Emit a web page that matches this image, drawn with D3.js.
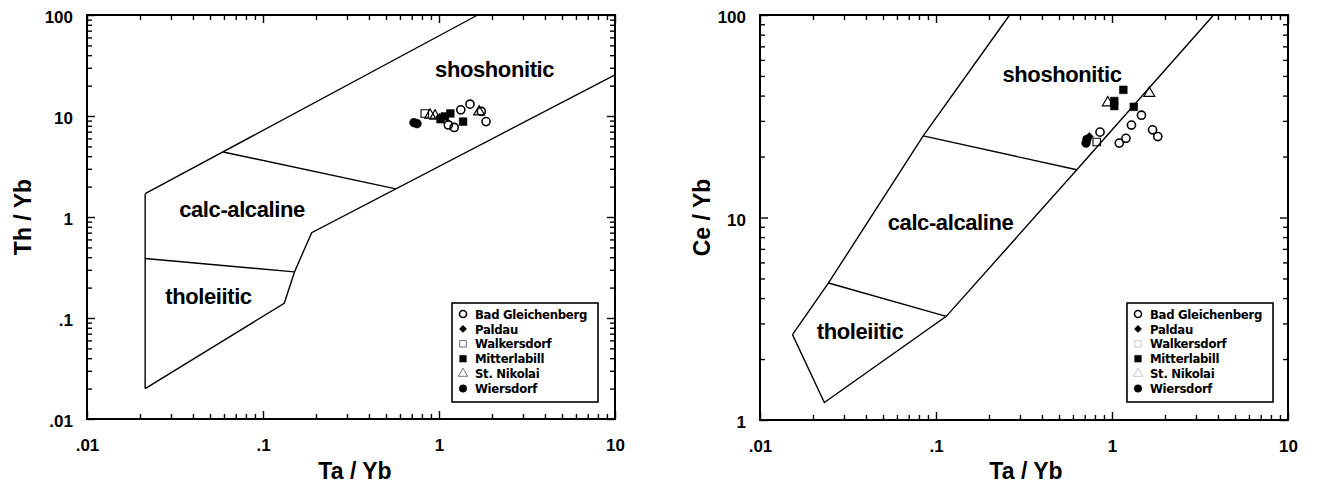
<!DOCTYPE html>
<html lang="en">
<head>
<meta charset="utf-8">
<title>Th/Yb and Ce/Yb vs Ta/Yb</title>
<script src="https://cdn.jsdelivr.net/npm/d3@7"></script>
<style>
  body { margin: 0; background: #fff; }
  .frame { fill: none; stroke: #000; stroke-width: 2; }
  .field { fill: none; stroke: #000; stroke-width: 1.4; stroke-linejoin: miter; }
  .tick line { stroke: #000; stroke-width: 1.4; }
  .region { font-family: "Liberation Sans", Arial, sans-serif; font-weight: bold; font-size: 22px; letter-spacing: -0.4px; }
  .title { font-family: "Liberation Sans", Arial, sans-serif; font-weight: bold; font-size: 23px; }
  .legend text { font-family: "Liberation Sans Narrow", "DejaVu Sans Condensed", sans-serif; font-weight: bold; font-size: 13px; letter-spacing: -0.3px; }
</style>
</head>
<body>
<script>
// sample sites (legend order)
var sites = ["Bad Gleichenberg", "Paldau", "Walkersdorf", "Mitterlabill", "St. Nikolai", "Wiersdorf"];

// tick labels
var taTickLabels = [".01", ".1", "1", "10"];
var thTickLabels = [".01", ".1", "1", "10", "100"];
var ceTickLabels = ["1", "10", "100"];

// [site, Ta/Yb, Th/Yb]
var thYbSamples = [
  ["Bad Gleichenberg", 1.33, 11.5],
  ["Bad Gleichenberg", 1.50, 13.1],
  ["Bad Gleichenberg", 1.22, 7.7],
  ["Bad Gleichenberg", 1.13, 8.15],
  ["Bad Gleichenberg", 1.85, 8.8],
  ["Bad Gleichenberg", 1.74, 11.1],
  ["Wiersdorf", 0.72, 8.6],
  ["Wiersdorf", 0.75, 8.4],
  ["Walkersdorf", 0.83, 10.6],
  ["St. Nikolai", 0.89, 10.2],
  ["St. Nikolai", 0.95, 10.0],
  ["St. Nikolai", 1.69, 11.0],
  ["Paldau", 1.01, 9.7],
  ["Mitterlabill", 1.16, 10.6],
  ["Mitterlabill", 1.08, 9.9],
  ["Mitterlabill", 1.02, 9.3],
  ["Mitterlabill", 1.37, 8.8]
];

// [site, Ta/Yb, Ce/Yb]
var ceYbSamples = [
  ["Bad Gleichenberg", 0.855, 26.4],
  ["Bad Gleichenberg", 1.47, 32.0],
  ["Bad Gleichenberg", 1.29, 28.6],
  ["Bad Gleichenberg", 1.20, 24.6],
  ["Bad Gleichenberg", 1.10, 23.3],
  ["Bad Gleichenberg", 1.70, 27.1],
  ["Bad Gleichenberg", 1.82, 25.1],
  ["Wiersdorf", 0.712, 23.3],
  ["Wiersdorf", 0.72, 24.3],
  ["Paldau", 0.743, 25.1],
  ["Walkersdorf", 0.819, 23.6],
  ["St. Nikolai", 0.946, 36.9],
  ["St. Nikolai", 1.63, 41.1],
  ["Mitterlabill", 1.16, 42.7],
  ["Mitterlabill", 1.03, 37.6],
  ["Mitterlabill", 1.03, 35.5],
  ["Mitterlabill", 1.33, 35.2]
];

// field boundaries (Ta/Yb, y ratio)
var thYbFields = [
  [[0.0214, 1.70], [1.66, 100]],
  [[0.0214, 1.70], [0.0214, 0.02]],
  [[0.0214, 0.02], [0.132, 0.14], [0.151, 0.286], [0.189, 0.70], [10, 25.6]],
  [[0.0594, 4.4], [0.569, 1.9]],
  [[0.0214, 0.388], [0.151, 0.286]]
];
var ceYbFields = [
  [[0.0153, 2.64], [0.0245, 4.75], [0.0846, 25.3], [0.262, 100]],
  [[0.0153, 2.64], [0.0232, 1.22], [0.1144, 3.25], [0.631, 17.2], [3.78, 100]],
  [[0.0245, 4.75], [0.1144, 3.25]],
  [[0.0846, 25.3], [0.631, 17.2]]
];

// field names and where they sit (Ta/Yb, y ratio)
var fieldNames = ["shoshonitic", "calc-alcaline", "tholeiitic"];
var thYbNamePos = [[2.07, 29.1], [0.076, 1.18], [0.049, 0.163]];
var ceYbNamePos = [[0.52, 50.6], [0.121, 9.45], [0.037, 2.74]];

var w = 1319, h = 488;

var svg = d3.select("body").append("svg")
  .attr("width", w)
  .attr("height", h);

var markerStyle = {
  "Bad Gleichenberg": { type: d3.symbolCircle, size: 52, fill: "none", sw: 1.6 },
  "Paldau":           { type: d3.symbolDiamond2, size: 44, fill: "#000", sw: 0.5 },
  "Walkersdorf":      { type: d3.symbolSquare, size: 56, fill: "none", sw: 1.1 },
  "Mitterlabill":     { type: d3.symbolSquare, size: 60, fill: "#000", sw: 0.5 },
  "St. Nikolai":      { type: d3.symbolTriangle, size: 50, fill: "none", sw: 1.2 },
  "Wiersdorf":        { type: d3.symbolCircle, size: 60, fill: "#000", sw: 0.5 }
};

function drawPanel(p) {
  var g = svg.append("g");

  var x = d3.scaleLog().domain([0.01, 10]).range(p.xRange);
  var y = d3.scaleLog().domain(p.yDomain).range(p.yRange);

  var isMajor = function(v) { return Math.abs(Math.log10(v) - Math.round(Math.log10(v))) < 1e-6; };
  var xAll = x.ticks(), yAll = y.ticks();
  var xMajor = xAll.filter(isMajor), xMinor = xAll.filter(function(v){ return !isMajor(v); });
  var yMajor = yAll.filter(isMajor), yMinor = yAll.filter(function(v){ return !isMajor(v); });

  var styleAxis = function(sel) {
    sel.select(".domain").remove();
    sel.attr("font-family", "'Liberation Sans', Arial, sans-serif")
      .attr("font-size", 17)
      .attr("font-weight", "bold");
  };

  // bottom
  g.append("g").attr("transform", "translate(0," + p.yRange[0] + ")")
    .call(d3.axisBottom(x).tickValues(xMajor).tickSize(-8).tickPadding(20)
      .tickFormat(function(d, i){ return taTickLabels[i]; }))
    .call(styleAxis);
  g.append("g").attr("transform", "translate(0," + p.yRange[0] + ")")
    .call(d3.axisBottom(x).tickValues(xMinor).tickSize(-5).tickFormat(""))
    .call(styleAxis);
  // top
  g.append("g").attr("transform", "translate(0," + p.yRange[1] + ")")
    .call(d3.axisTop(x).tickValues(xMajor).tickSize(-8).tickFormat(""))
    .call(styleAxis);
  g.append("g").attr("transform", "translate(0," + p.yRange[1] + ")")
    .call(d3.axisTop(x).tickValues(xMinor).tickSize(-5).tickFormat(""))
    .call(styleAxis);
  // left
  var left = g.append("g").attr("transform", "translate(" + p.xRange[0] + ",0)")
    .call(d3.axisLeft(y).tickValues(yMajor).tickSize(-8).tickPadding(14)
      .tickFormat(function(d, i){ return p.yLabels[i]; }))
    .call(styleAxis);
  left.selectAll("text").attr("dy", "0.45em");
  g.append("g").attr("transform", "translate(" + p.xRange[0] + ",0)")
    .call(d3.axisLeft(y).tickValues(yMinor).tickSize(-5).tickFormat(""))
    .call(styleAxis);
  // right
  g.append("g").attr("transform", "translate(" + p.xRange[1] + ",0)")
    .call(d3.axisRight(y).tickValues(yMajor).tickSize(-8).tickFormat(""))
    .call(styleAxis);
  g.append("g").attr("transform", "translate(" + p.xRange[1] + ",0)")
    .call(d3.axisRight(y).tickValues(yMinor).tickSize(-5).tickFormat(""))
    .call(styleAxis);

  // frame
  g.append("rect").attr("class", "frame")
    .attr("x", p.xRange[0]).attr("y", p.yRange[1])
    .attr("width", p.xRange[1] - p.xRange[0])
    .attr("height", p.yRange[0] - p.yRange[1]);

  // field boundaries
  var line = d3.line()
    .x(function(d){ return x(d[0]); })
    .y(function(d){ return y(d[1]); });
  g.selectAll(".field").data(p.fields).enter()
    .append("path").attr("class", "field").attr("d", line);

  // field names
  g.selectAll(".region").data(fieldNames).enter()
    .append("text").attr("class", "region")
    .attr("x", function(d, i){ return x(p.namePos[i][0]); })
    .attr("y", function(d, i){ return y(p.namePos[i][1]); })
    .attr("text-anchor", "middle")
    .attr("dominant-baseline", "central")
    .text(function(d){ return d; });

  // samples
  g.selectAll(".pt").data(p.samples).enter()
    .append("path").attr("class", "pt")
    .attr("transform", function(d){ return "translate(" + x(d[1]) + "," + y(d[2]) + ")"; })
    .attr("d", function(d){ var s = markerStyle[d[0]]; return d3.symbol().type(s.type).size(s.size)(); })
    .attr("fill", function(d){ return markerStyle[d[0]].fill; })
    .attr("stroke", "#000")
    .attr("stroke-width", function(d){ return markerStyle[d[0]].sw; });

  // axis titles
  g.append("text").attr("class", "title")
    .attr("x", (p.xRange[0] + p.xRange[1]) / 2 + p.xTitleShift).attr("y", 471)
    .attr("text-anchor", "middle").attr("dominant-baseline", "central")
    .text("Ta / Yb");
  g.append("text").attr("class", "title")
    .attr("transform", "translate(" + p.yTitleX + "," + ((p.yRange[0] + p.yRange[1]) / 2) + ") rotate(-90)")
    .attr("text-anchor", "middle").attr("dominant-baseline", "central")
    .text(p.yTitle);

  // legend
  var lg = g.append("g").attr("class", "legend")
    .attr("transform", "translate(" + p.legend[0] + "," + p.legend[1] + ")");
  lg.append("rect").attr("width", 146).attr("height", 99)
    .attr("fill", "#fff").attr("stroke", "#000").attr("stroke-width", 1.6);
  var item = lg.selectAll(".item").data(sites).enter()
    .append("g").attr("class", "item")
    .attr("transform", function(d, i){ return "translate(0," + (11 + i * 14.9) + ")"; });
  item.append("path")
    .attr("transform", "translate(11,0)")
    .attr("d", function(d){ var s = markerStyle[d]; return d3.symbol().type(s.type).size(s.size * 0.75)(); })
    .attr("fill", function(d){ return markerStyle[d].fill; })
    .attr("stroke", "#000")
    .attr("stroke-width", function(d){ return markerStyle[d].fill === "none" && d !== "Bad Gleichenberg" ? 0.7 : markerStyle[d].sw; })
    .attr("stroke-opacity", function(d){ return markerStyle[d].fill === "none" && d !== "Bad Gleichenberg" ? p.faint : 1; });
  item.append("text").attr("x", 23).attr("dy", "0.36em")
    .text(function(d){ return d; });
}

drawPanel({
  xRange: [87, 615], yRange: [419, 15], yDomain: [0.01, 100],
  yLabels: thTickLabels, yTitle: "Th / Yb", yTitleX: 23, xTitleShift: 4,
  fields: thYbFields, namePos: thYbNamePos, samples: thYbSamples,
  legend: [452, 303], faint: 0.8
});

drawPanel({
  xRange: [760, 1288], yRange: [420, 15], yDomain: [1, 100],
  yLabels: ceTickLabels, yTitle: "Ce / Yb", yTitleX: 702, xTitleShift: 2,
  fields: ceYbFields, namePos: ceYbNamePos, samples: ceYbSamples,
  legend: [1127, 303], faint: 0.3
});
</script>
</body>
</html>
